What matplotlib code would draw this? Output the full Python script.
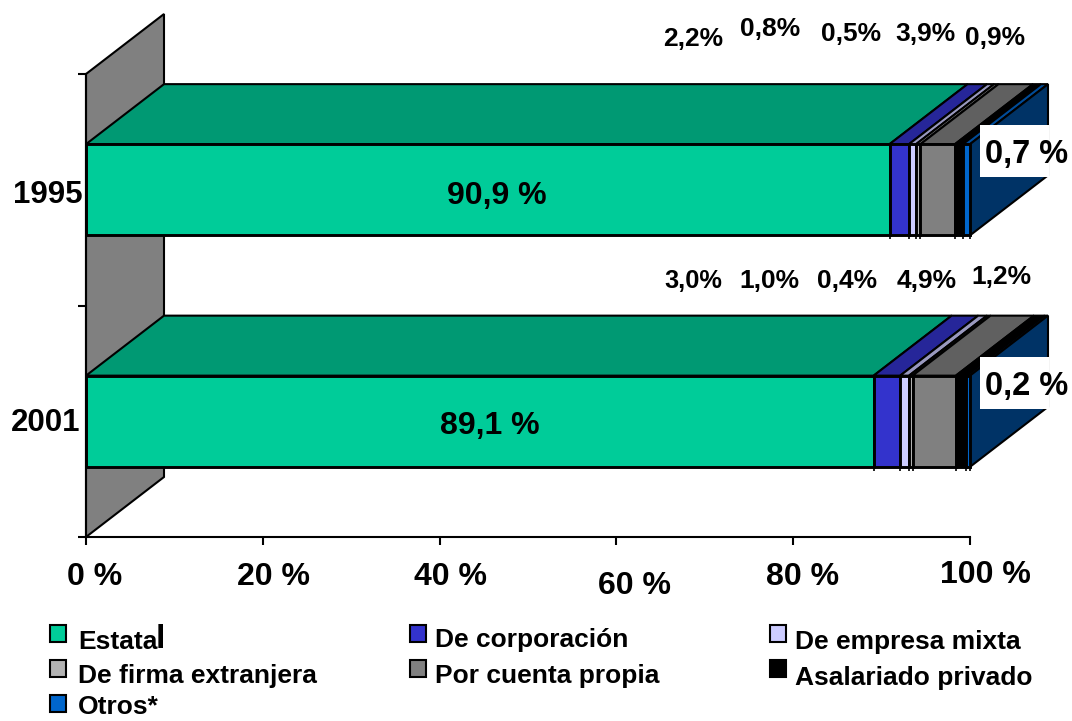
import matplotlib
matplotlib.use("Agg")
import matplotlib.pyplot as plt
from matplotlib.patches import Polygon, Rectangle

plt.rcParams['font.family'] = ['Liberation Sans', 'DejaVu Sans']
plt.rcParams['font.weight'] = 'bold'

W, H = 1072, 721

# data
years = ["2001", "1995"]
categories = ["Estatal", "De corporación", "De empresa mixta", "De firma extranjera",
              "Por cuenta propia", "Asalariado privado", "Otros*"]
values_2001 = [89.1, 3.0, 1.0, 0.4, 4.9, 1.2, 0.2]
values_1995 = [90.9, 2.2, 0.8, 0.5, 3.9, 0.9, 0.7]
xticks = [0, 20, 40, 60, 80, 100]

# colours for legend / front, top faces
front = ["#00CC99", "#3333CC", "#CCCCFF", "#B2B2B2", "#808080", "#000000", "#0066CC"]
top = ["#009973", "#262699", "#9999BF", "#858585", "#606060", "#000000", "#004C99"]
side = "#003366"
wall = "#808080"

# pixel position helper
def fx(x):
    return x / W

def fy(y):
    return 1 - y / H

fig = plt.figure(figsize=(W / 100, H / 100), dpi=100, facecolor="white")
ax = fig.add_axes([fx(86), fy(537), (970 - 86) / W, (537 - 74) / H])
ax.set_xlim(0, 100)
ax.set_ylim(0, 2)
ax.patch.set_visible(False)
for s in ["top", "right"]:
    ax.spines[s].set_visible(False)
for s in ["left", "bottom"]:
    ax.spines[s].set_linewidth(1.5)
ax.set_xticks(xticks)
ax.set_xticklabels([])
ax.set_yticks([0, 1, 2])
ax.set_yticklabels([])
ax.tick_params(length=5.5, width=1.5, direction="out")

dx = 78 / 8.84     # depth of the 3d effect, x units
dy = 60 / 231.5    # depth of the 3d effect, y units
half = 0.197


def poly(pts, color, z, lw=1.5):
    ax.add_patch(Polygon(pts, closed=True, facecolor=color, edgecolor="black",
                         linewidth=lw, clip_on=False, zorder=z, joinstyle="miter"))


# back wall
poly([(0, 0), (dx, dy), (dx, 2 + dy), (0, 2)], wall, 1)


def bar3d(vals, yc):
    y0, y1 = yc - half, yc + half
    left = 0
    for i, v in enumerate(vals):
        right = left + v
        if i == len(vals) - 1:
            right = 100
        poly([(left, y1), (right, y1), (right + dx, y1 + dy), (left + dx, y1 + dy)], top[i], 3)
        poly([(left, y0), (right, y0), (right, y1), (left, y1)], front[i], 4, lw=2.1)
        # little stubs under the bar at each boundary
        ax.vlines(right, y0 - 0.016, y0, color="black", linewidth=1.2, clip_on=False, zorder=4)
        left = right
    poly([(100, y0), (100 + dx, y0 + dy), (100 + dx, y1 + dy), (100, y1)], side, 3)


bar3d(values_2001, 0.5)
bar3d(values_1995, 1.5)


def txt(x, y, s, size, ha="center"):
    fig.text(fx(x), fy(y + 2), s, fontsize=size, ha=ha, va="center", fontweight="bold",
             color="black", zorder=10)


def pct(v):
    return f"{v:.1f}".replace(".", ",")


# big labels
txt(497, 194, pct(values_1995[0]) + " %", 23)
txt(490, 424, pct(values_2001[0]) + " %", 23)

# white boxes for last segment
for y0, v in [(125, values_1995[6]), (357, values_2001[6])]:
    fig.add_artist(Rectangle((fx(980), fy(y0 + 52)), 69 / W, 52 / H, facecolor="white",
                             edgecolor="none", transform=fig.transFigure, zorder=8))
    txt(1027, y0 + 28, pct(v) + " %", 23.5)

# small labels
pos_1995 = [(693, 37), (770, 27), (851, 32), (925, 32), (995, 36)]
pos_2001 = [(693, 279), (769, 279), (847, 279), (927, 279), (1001, 275)]
for (x, y), v in zip(pos_1995, values_1995[1:6]):
    txt(x, y, pct(v) + "%", 19)
for (x, y), v in zip(pos_2001, values_2001[1:6]):
    txt(x, y, pct(v) + "%", 19 if v != 3.0 else 18.3)

# tick labels
txt(48, 193, years[1], 22.5)
txt(46, 421, years[0], 22.5)
xtick_pos = [(95, 575), (273, 575), (450, 575), (634, 584), (803, 575), (985, 573)]
for (x, y), t in zip(xtick_pos, xticks):
    txt(x, y, f"{t} %", 23)

# legend
squares = [(50, 625), (410, 625), (770, 625), (50, 660), (410, 660), (770, 660), (50, 695)]
names = [(78, 640), (435, 638), (795, 640), (78, 674), (435, 674), (795, 676), (78, 705)]
for i, ((sx, sy), (nx, ny)) in enumerate(zip(squares, names)):
    fig.add_artist(Rectangle((fx(sx), fy(sy + 17)), 16 / W, 17 / H, facecolor=front[i],
                             edgecolor="black", linewidth=1.5, transform=fig.transFigure,
                             zorder=8))
    if i == 0:
        txt(nx, ny, categories[i][:-1], 19, ha="left")
        txt(156, 637, categories[i][-1], 24, ha="left")
    else:
        txt(nx, ny, categories[i], 19, ha="left")

fig.savefig("out.png", dpi=100, facecolor="white")
